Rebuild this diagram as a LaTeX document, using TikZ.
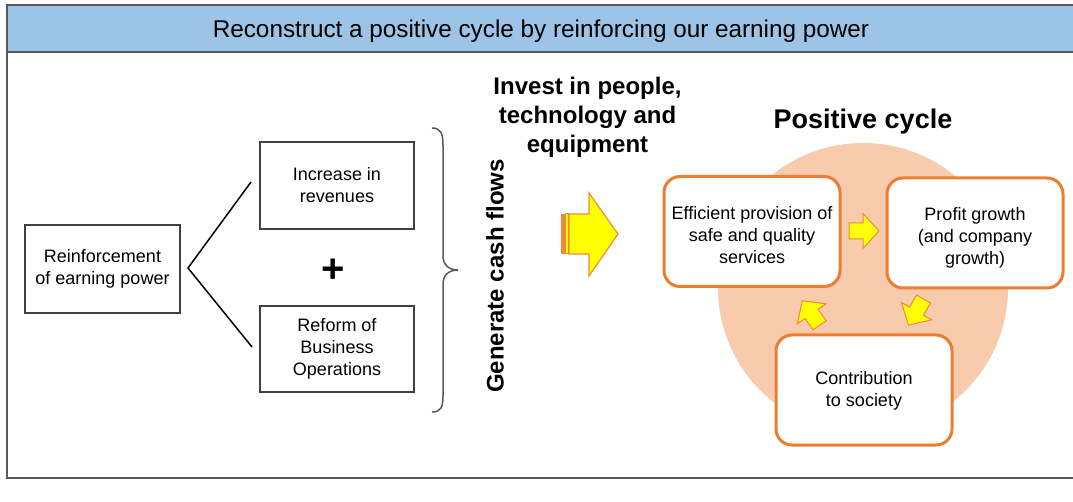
\documentclass[tikz,border=0pt]{standalone}
\usepackage{fontspec}
\setmainfont{Liberation Sans}
\definecolor{headblue}{HTML}{9DC3E6}
\definecolor{framegray}{HTML}{595959}
\definecolor{boxgray}{HTML}{404040}
\definecolor{cyclefill}{HTML}{F8CBAD}
\definecolor{cycleorange}{HTML}{ED7D31}
\definecolor{arrowyellow}{HTML}{FFFF00}
\definecolor{arroworange}{HTML}{F08A3A}
\begin{document}
\begin{tikzpicture}[x=1pt,y=-1pt,
  every node/.style={inner sep=0pt, outer sep=0pt},
  bodytext/.style={font=\fontsize{18}{22}\selectfont, align=center},
  graybox/.style={bodytext, draw=boxgray, line width=2.5pt, fill=white},
  cyclebox/.style={draw=cycleorange, line width=3pt, fill=white,
    rounded corners=16pt, minimum width=176pt, minimum height=110pt},
  boldtext/.style={font=\fontsize{24}{29}\selectfont\bfseries, align=center},
  linkline/.style={draw=black, line width=1.5pt},
  blockarrow/.pic={
    \filldraw[fill=arrowyellow, draw=arroworange, line width=1pt, line join=miter]
      (-15,-8) -- (-1,-8) -- (-1,-17.5) -- (15,0) -- (-1,17.5) -- (-1,8) -- (-15,8) -- cycle;
  }
]
\useasboundingbox (0,0) rectangle (1073,502);

% outer frame with the title band
\fill[white] (7,5) rectangle (1085,478);
\filldraw[fill=headblue, draw=framegray, line width=2pt] (7,5) rectangle (1085,52);
\draw[framegray, line width=2pt] (7,52) -- (7,478) -- (1085,478);
\node[font=\fontsize{24.3}{28}\selectfont] (title) at (541,31)
  {Reconstruct a positive cycle by reinforcing our earning power};

% left part: earning power split into two measures
\node[graybox, minimum width=155pt, minimum height=88pt] (reinf) at (102.5,269)
  {Reinforcement\\of earning power};
\node[graybox, minimum width=154pt, minimum height=87pt] (incr) at (337,185.5)
  {Increase in\\revenues};
\node[graybox, minimum width=154pt, minimum height=86pt] (reform) at (337,349)
  {Reform of\\Business\\Operations};
\node[font=\fontsize{40}{40}\selectfont\bfseries] (plus) at (333,271) {+};

\coordinate (apex) at (188,268);
\coordinate (incrend) at (251,182);
\coordinate (reformend) at (252,347);
\draw[linkline] (incrend) -- (apex) -- (reformend);

% curly brace and its label
\draw[framegray, line width=1.5pt]
  (432,128) .. controls (441,128) and (443,134) .. (443,145)
  -- (443,256) .. controls (443,265) and (449,270) .. (458,270)
  .. controls (449,270) and (443,275) .. (443,284)
  -- (443,396) .. controls (443,407) and (441,412) .. (432,412);
\node[boldtext, rotate=90] (cash) at (495,276) {Generate cash flows};

% investment label and the big arrow
\node[boldtext] (invest) at (587.5,117) {Invest in people,\\technology and\\equipment};
\fill[arroworange] (561,214) rectangle (564.5,254);
\filldraw[fill=arrowyellow, draw=arroworange, line width=1pt] (565.5,214) rectangle (568.5,254);
\filldraw[fill=arrowyellow, draw=arroworange, line width=1.2pt, line join=miter]
  (569,214) -- (589,214) -- (589,193) -- (618,234) -- (589,276) -- (589,254) -- (569,254) -- cycle;

% positive cycle
\node[boldtext, font=\fontsize{27}{32}\selectfont\bfseries] (cyctitle) at (863,122) {Positive cycle};
\fill[cyclefill] (863,288) circle (145);
\node[cyclebox] (eff) at (752,231.5) {};
\node[cyclebox] (profit) at (975,233) {};
\node[cyclebox] (contrib) at (864,390) {};
\node[bodytext] (efftext) at ([yshift=-4pt]eff.center) {Efficient provision of\\safe and quality\\services};
\node[bodytext] (profittext) at ([yshift=-5pt]profit.center) {Profit growth\\(and company\\growth)};
\node[bodytext] (contribtext) at ([yshift=-1pt]contrib.center) {Contribution\\to society};

\pic at (864,231) {blockarrow};
\pic[rotate=-120] at (916,312) {blockarrow};
\pic[rotate=125] at (811,313) {blockarrow};
\end{tikzpicture}
\end{document}
